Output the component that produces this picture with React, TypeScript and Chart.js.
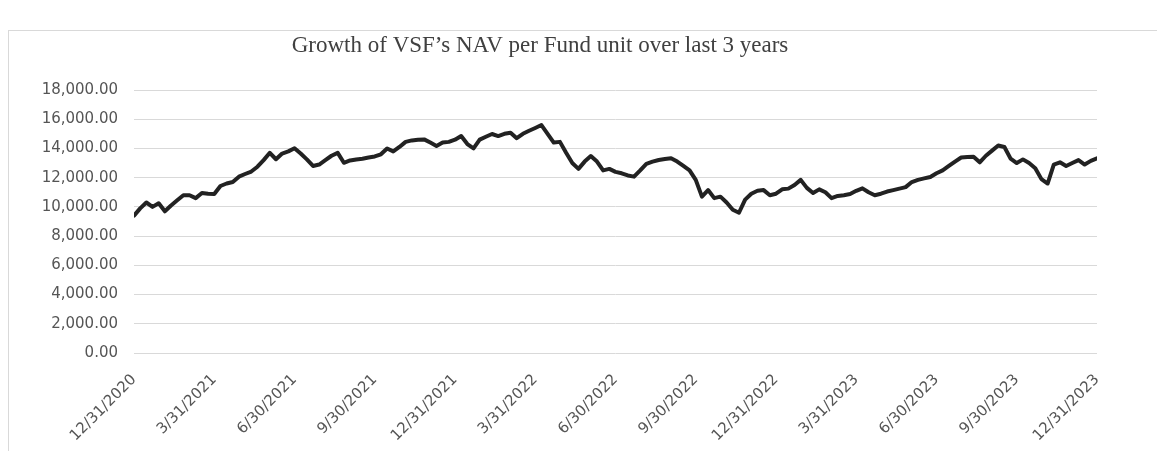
import React, { useEffect, useRef } from "react";
import { Chart, registerables } from "chart.js";

Chart.register(...registerables);

const TITLE = "Growth of VSF\u2019s NAV per Fund unit over last 3 years";

const DATE_LABELS = [
  "12/31/2020", "3/31/2021", "6/30/2021", "9/30/2021", "12/31/2021",
  "3/31/2022", "6/30/2022", "9/30/2022", "12/31/2022", "3/31/2023",
  "6/30/2023", "9/30/2023", "12/31/2023",
];

const WEEKS_PER_QUARTER = 13;

const Y_TICKS = [0, 2000, 4000, 6000, 8000, 10000, 12000, 14000, 16000, 18000];

// weekly NAV per fund unit, 12/31/2020 .. 12/31/2023
const NAV = [
  9400, 9900, 10300, 10000, 10250, 9700, 10100, 10450, 10800, 10800,
  10600, 10950, 10900, 10880, 11430, 11600, 11700, 12070, 12250, 12420,
  12750, 13200, 13700, 13260, 13650, 13800, 14010, 13650, 13250, 12800,
  12900, 13200, 13500, 13700, 13020, 13180, 13250, 13300, 13380, 13450,
  13600, 14000, 13800, 14100, 14450, 14550, 14600, 14620, 14400, 14170,
  14400, 14450, 14600, 14850, 14300, 14010, 14600, 14800, 14990, 14850,
  15000, 15080, 14700, 15000, 15210, 15400, 15600, 15000, 14400, 14450,
  13700, 13000, 12600, 13100, 13480, 13100, 12500, 12600, 12400, 12300,
  12150, 12070, 12500, 12950, 13100, 13210, 13280, 13330, 13100, 12800,
  12500, 11850, 10700, 11150, 10600, 10700, 10300, 9800, 9600, 10500,
  10900, 11100, 11150, 10800, 10900, 11200, 11250, 11500, 11850, 11300,
  10950, 11200, 11000, 10600, 10750, 10800, 10880, 11100, 11270, 11000,
  10800, 10900, 11050, 11150, 11250, 11350, 11700, 11850, 11950, 12050,
  12300, 12500, 12800, 13100, 13380, 13420, 13430, 13050, 13500, 13850,
  14200, 14100, 13300, 13000, 13250, 13000, 12650, 11900, 11600, 12900,
  13050, 12800, 13000, 13200, 12900, 13150, 13330,
];

const titlePlugin = {
  id: "manualTitle",
  afterDraw(chart: any) {
    const ctx = chart.ctx;
    ctx.save();
    ctx.font = "normal 23px 'Liberation Serif', 'Times New Roman', serif";
    ctx.fillStyle = "#404040";
    ctx.textAlign = "center";
    ctx.textBaseline = "middle";
    ctx.fillText(TITLE, 531, 15);
    ctx.restore();
  },
};

export default function App() {
  const ref = useRef<HTMLCanvasElement | null>(null);

  useEffect(() => {
    if (!ref.current) return;
    const points = NAV.map((v, i) => ({ x: i, y: v }));
    const chart = new Chart(ref.current, {
      type: "line",
      data: {
        datasets: [
          {
            data: points,
            borderColor: "#222222",
            borderWidth: 4,
            pointRadius: 0,
            tension: 0,
            borderJoinStyle: "round",
            borderCapStyle: "round",
            fill: false,
          },
        ],
      },
      plugins: [titlePlugin],
      options: {
        responsive: false,
        animation: false,
        layout: { padding: { left: 0, right: 60, top: 59, bottom: 0 } },
        plugins: {
          legend: { display: false },
          tooltip: { enabled: false },
          title: { display: false },
        },
        scales: {
          x: {
            type: "linear",
            min: 0,
            max: NAV.length - 1,
            grid: { display: false, drawTicks: false },
            border: { display: false },
            afterBuildTicks: (scale: any) => {
              scale.ticks = DATE_LABELS.map((_, i) => ({ value: i * WEEKS_PER_QUARTER }));
            },
            afterFit: (scale: any) => {
              scale.height = 98;
            },
            ticks: {
              autoSkip: false,
              maxRotation: 45,
              minRotation: 45,
              padding: 18,
              color: "#555555",
              font: { family: "'DejaVu Sans', sans-serif", size: 15 },
              callback: (v: any) => {
                const idx = Math.round(Number(v) / WEEKS_PER_QUARTER);
                return DATE_LABELS[idx] ?? "";
              },
            },
          },
          y: {
            min: Y_TICKS[0],
            max: Y_TICKS[Y_TICKS.length - 1],
            afterBuildTicks: (scale: any) => {
              scale.ticks = Y_TICKS.map((v) => ({ value: v }));
            },
            afterFit: (scale: any) => {
              scale.width = 125;
            },
            grid: { color: "#d9d9d9", lineWidth: 1, drawTicks: false },
            border: { display: false },
            ticks: {
              padding: 16,
              color: "#555555",
              font: { family: "'DejaVu Sans', sans-serif", size: 15 },
              callback: (v: any) =>
                Number(v).toLocaleString("en-US", { minimumFractionDigits: 2, maximumFractionDigits: 2 }),
            },
          },
        },
      },
    });
    return () => chart.destroy();
  }, []);

  return (
    <div
      style={{
        marginTop: 22,
        width: 1149,
        height: 421,
        borderTop: "1px solid #d9d9d9",
        borderLeft: "1px solid #d9d9d9",
        boxSizing: "border-box",
        background: "#fff",
      }}
    >
      <canvas ref={ref} width={1148} height={420} style={{ display: "block" }} />
    </div>
  );
}
